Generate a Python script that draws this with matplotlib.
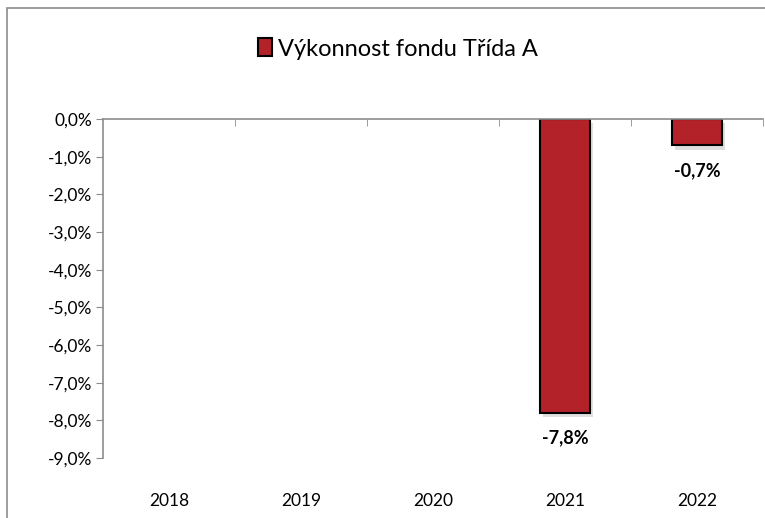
import matplotlib.pyplot as plt
import matplotlib.patheffects as pe
from matplotlib.patches import Rectangle
from matplotlib.ticker import FuncFormatter

years = ["2018", "2019", "2020", "2021", "2022"]
values = [None, None, None, -7.8, -0.7]
series_name = "Výkonnost fondu Třída A"

plt.rcParams['font.family'] = ['Lato', 'DejaVu Sans']

fig = plt.figure(figsize=(7.65, 5.18), dpi=100)
# outer chart border
fig.patches.append(Rectangle((7 / 765, -0.1), 1.2, 1 - 8 / 518 + 0.1,
                             transform=fig.transFigure, fill=False,
                             edgecolor="#8c8c8c", linewidth=1.2))

ax = fig.add_axes([103 / 765, 1 - 458 / 518, 660 / 765, 339 / 518])

xs = [i for i, v in enumerate(values) if v is not None]
ys = [v for v in values if v is not None]
bars = ax.bar(xs, ys, width=0.38, color="#B22228", edgecolor="black",
              linewidth=1.5, label=series_name)
for b in bars:
    b.set_path_effects([pe.SimplePatchShadow(offset=(2, -3), shadow_rgbFace="#b0b0b0", alpha=0.4), pe.Normal()])

for x, v in zip(xs, ys):
    ax.annotate(f"{v:.1f}%".replace(".", ","), (x, v), xytext=(0, -12),
                textcoords="offset points", ha="center", va="top",
                fontsize=13, fontweight="bold")

ax.set_xlim(-0.5, len(years) - 0.5)
ax.set_ylim(-9, 0)
ax.set_yticks(range(-9, 1))
ax.yaxis.set_major_formatter(FuncFormatter(lambda v, p: f"{v:.1f}%".replace(".", ",")))
ax.tick_params(axis="y", direction="out", length=5, color="#8c8c8c", labelsize=12.5, pad=3)

ax.set_xticks(range(len(years)))
ax.set_xticklabels(years)
ax.tick_params(axis="x", which="major", bottom=False, top=False, labelsize=12.5, pad=22)
ax.set_xticks([i + 0.5 for i in range(len(years))], minor=True)
ax.tick_params(axis="x", which="minor", bottom=False, top=True, direction="in",
               length=5, color="#8c8c8c")

for s in ["right", "bottom"]:
    ax.spines[s].set_visible(False)
for s in ["left", "top"]:
    ax.spines[s].set_color("#8c8c8c")
    ax.spines[s].set_linewidth(1.2)

leg = fig.legend(loc="center", bbox_to_anchor=(398 / 765, 1 - 49 / 518), frameon=False,
                 fontsize=17, handlelength=0.6, handleheight=0.8, handletextpad=0.25)
for h in leg.legend_handles:
    h.set_path_effects([])

fig.savefig("out.png", dpi=100)
